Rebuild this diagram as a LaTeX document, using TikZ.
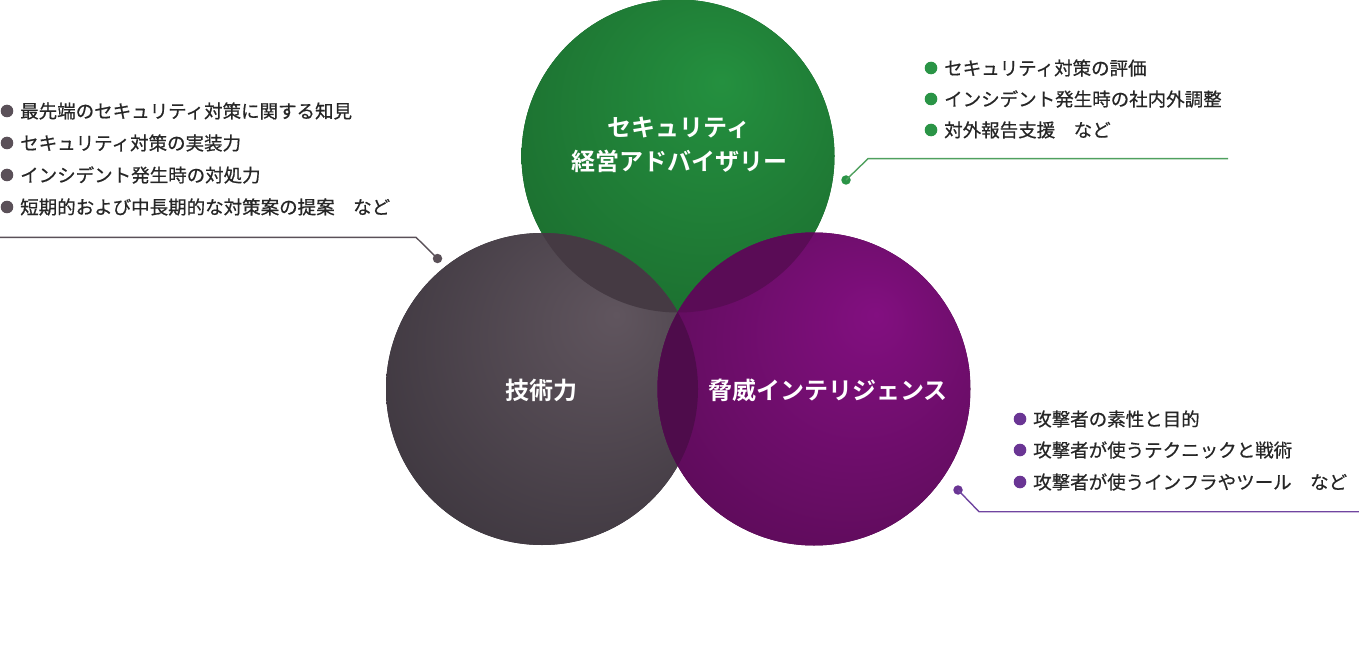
\documentclass[tikz,border=0pt]{standalone}
\usepackage{fontspec}
\newfontfamily\jp[BoldFont={Noto Sans CJK JP Bold}]{Noto Sans CJK JP}
\newfontfamily\jpm[FakeBold=0.6]{Noto Sans CJK JP}
\definecolor{gL}{HTML}{24903F}
\definecolor{gD}{HTML}{1A672C}
\definecolor{kL}{HTML}{60555E}
\definecolor{kD}{HTML}{363038}
\definecolor{pL}{HTML}{820F80}
\definecolor{pD}{HTML}{530B4F}
\definecolor{ovKG}{HTML}{453A43}
\definecolor{ovPG}{HTML}{5A0C56}
\definecolor{ovKP}{HTML}{4E0C4B}
\definecolor{txt}{HTML}{262626}
\definecolor{kBul}{HTML}{5A5058}
\definecolor{gBul}{HTML}{2A9446}
\definecolor{gLine}{HTML}{4FA05E}
\definecolor{pBul}{HTML}{6A3594}
\definecolor{pLine}{HTML}{7045A0}
\pgfdeclareradialshading{greenball}{\pgfpoint{7bp}{12bp}}{color(0bp)=(gL);color(42bp)=(gD);color(60bp)=(gD)}
\pgfdeclareradialshading{grayball}{\pgfpoint{12bp}{12bp}}{color(0bp)=(kL);color(44bp)=(kD);color(60bp)=(kD)}
\pgfdeclareradialshading{purpleball}{\pgfpoint{10bp}{12bp}}{color(0bp)=(pL);color(44bp)=(pD);color(60bp)=(pD)}
\tikzset{
  circlabel/.style={text=white, font=\jp\bfseries\fontsize{24}{34}\selectfont, align=center, inner sep=0pt},
  itemtext/.style={text=txt, font=\jpm\fontsize{18.5}{22}\selectfont, anchor=west, inner sep=0pt},
  dotnode/.style={circle, inner sep=0pt, minimum size=9.5pt},
  connline/.style={line width=1.4pt}
}
\begin{document}
\begin{tikzpicture}[x=1pt,y=-1pt]
\useasboundingbox (0,0) rectangle (1359,647);
% circles
\fill[gD] (678,156) circle (156.5);
\shade[shading=greenball] (678,156) circle (156.5);
\fill[kD] (542,389) circle (156);
\shade[shading=grayball] (542,389) circle (156);
\fill[pD] (814,389) circle (156.5);
\shade[shading=purpleball] (814,389) circle (156.5);
% overlaps
\begin{scope}
  \clip (678,156) circle (156.5);
  \fill[ovKG] (542,389) circle (156);
  \fill[ovPG] (814,389) circle (156.5);
\end{scope}
\begin{scope}
  \clip (542,389) circle (156);
  \fill[ovKP] (814,389) circle (156.5);
\end{scope}
% circle labels
\node[circlabel] (adv) at (679,145) {セキュリティ\\経営アドバイザリー};
\node[circlabel] (tech) at (541,390) {技術力};
\node[circlabel] (intel) at (828,390) {脅威インテリジェンス};
% left list
\foreach \y in {111,143,175,207} \fill[kBul] (7,\y) circle (6.3);
\node[itemtext] (k1) at (20,111) {最先端のセキュリティ対策に関する知見};
\node[itemtext] (k2) at (20,143) {セキュリティ対策の実装力};
\node[itemtext] (k3) at (20,175) {インシデント発生時の対処力};
\node[itemtext] (k4) at (20,207) {短期的および中長期的な対策案の提案　など};
% green list
\foreach \y in {68,99,130} \fill[gBul] (931,\y) circle (6.3);
\node[itemtext] (g1) at (944,68) {セキュリティ対策の評価};
\node[itemtext] (g2) at (944,99) {インシデント発生時の社内外調整};
\node[itemtext] (g3) at (944,130) {対外報告支援　など};
% purple list
\foreach \y in {419,450,482} \fill[pBul] (1020,\y) circle (6.3);
\node[itemtext] (p1) at (1033,419) {攻撃者の素性と目的};
\node[itemtext] (p2) at (1033,450) {攻撃者が使うテクニックと戦術};
\node[itemtext] (p3) at (1033,482) {攻撃者が使うインフラやツール　など};
% connectors
\node[dotnode, fill=kBul] (kdot) at (437.5,258.5) {};
\coordinate (kbend) at (416,237.3);
\coordinate (kend) at (0,237.3);
\draw[connline, kBul] (kdot.center) -- (kbend) -- (kend);
\node[dotnode, fill=gBul] (gdot) at (846,180) {};
\coordinate (gbend) at (868,158.7);
\coordinate (gend) at (1228,158.7);
\draw[connline, gLine] (gdot.center) -- (gbend) -- (gend);
\node[dotnode, fill=pBul] (pdot) at (958,490) {};
\coordinate (pbend) at (979,511.7);
\coordinate (pend) at (1359,511.7);
\draw[connline, pLine] (pdot.center) -- (pbend) -- (pend);
\end{tikzpicture}
\end{document}
